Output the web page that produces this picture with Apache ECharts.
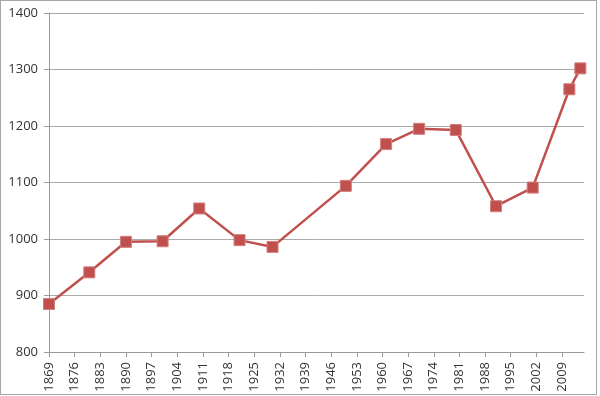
<!DOCTYPE html>
<html>
<head>
<meta charset="utf-8">
<script src="https://cdn.jsdelivr.net/npm/echarts@6/dist/echarts.min.js"></script>
<style>
html,body{margin:0;padding:0;background:#fff;}
#frame{position:absolute;left:0;top:0;width:595px;height:393px;border:1px solid #a6a6a6;background:#fff;}
#chart{position:absolute;left:0;top:0;width:600px;height:396px;}
</style>
</head>
<body>
<div id="frame"></div>
<div id="chart"></div>
<script>
const years = [1869, 1880, 1890, 1900, 1910, 1921, 1930, 1950, 1961, 1970, 1980, 1991, 2001, 2011, 2014];
const values = [885, 941, 995, 996, 1054, 998, 986, 1094, 1168, 1195, 1193, 1058, 1091, 1265, 1302];
const xMin = 1869, xMax = 2015, xStep = 7;
const yMin = 800, yMax = 1400, yStep = 100;

const chart = echarts.init(document.getElementById('chart'), null, {renderer: 'canvas'});
const font = '"Open Sans", "Noto Sans", sans-serif';
chart.setOption({
  animation: false,
  backgroundColor: 'transparent',
  grid: {left: 49, right: 16, top: 13, bottom: 44, containLabel: false},
  xAxis: {
    type: 'value', min: xMin, max: xMax, interval: xStep,
    axisLine: {show: true, lineStyle: {color: '#999', width: 1}},
    axisTick: {show: true, length: 5, lineStyle: {color: '#999'}},
    splitLine: {show: false},
    axisLabel: {rotate: 90, margin: 10, fontSize: 13, color: '#333', fontFamily: font,
      showMaxLabel: false, formatter: v => String(Math.round(v))}
  },
  yAxis: {
    type: 'value', min: yMin, max: yMax, interval: yStep,
    axisLine: {show: true, lineStyle: {color: '#999', width: 1}},
    axisTick: {show: true, length: 5, lineStyle: {color: '#999'}},
    splitLine: {show: true, lineStyle: {color: '#aaa', width: 1}},
    axisLabel: {margin: 11, fontSize: 13, color: '#333', fontFamily: font,
      formatter: v => String(v)}
  },
  series: [{
    type: 'line',
    data: years.map((y, i) => [y, values[i]]),
    symbol: 'rect', symbolSize: 11,
    lineStyle: {color: '#c0504d', width: 2.5},
    itemStyle: {color: '#c0504d', borderColor: '#d27f7d', borderWidth: 1},
    z: 3
  }]
});
</script>
</body>
</html>
